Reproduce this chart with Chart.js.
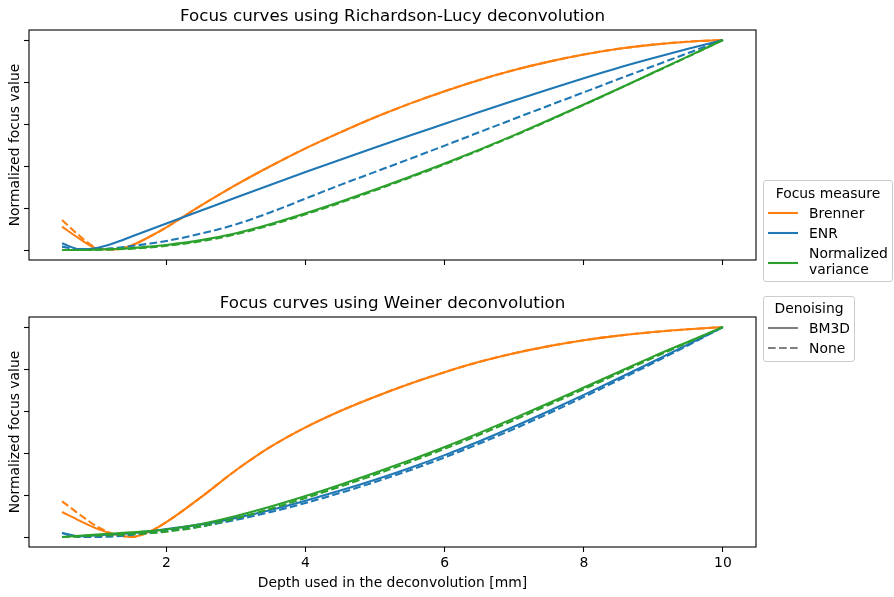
<!DOCTYPE html>
<html><head><meta charset="utf-8">
<script src="https://cdn.jsdelivr.net/npm/chart.js@4.4.1/dist/chart.umd.min.js"></script>
<style>
html,body{margin:0;padding:0;background:#fff;}
body{width:894px;height:597px;position:relative;overflow:hidden;font-family:"DejaVu Sans",sans-serif;}
canvas{position:absolute;left:0;}
#c1{top:0;}
#c2{top:290px;}
.legend{position:absolute;border:1px solid #cccccc;border-radius:3px;background:rgba(255,255,255,0.8);box-sizing:border-box;}
.lt{position:absolute;font-size:13.9px;line-height:16px;white-space:nowrap;color:#000;}
.legend svg{position:absolute;}
</style>
</head><body>
<canvas id="c1" width="894" height="290"></canvas>
<canvas id="c2" width="894" height="307"></canvas>
<div class="legend" id="leg1" style="left:763px;top:180px;width:130px;height:102px;"></div>
<div class="legend" id="leg2" style="left:763px;top:296px;width:92px;height:66px;"></div>
<script>
// ---- data ----
const depth = [0.5,0.75,1.0,1.25,1.5,1.75,2.0,2.5,3.0,3.5,4.0,4.5,5.0,5.5,6.0,6.5,7.0,7.5,8.0,8.5,9.0,9.5,10.0];
const xTicks = [2,4,6,8,10];
const yTicks = [0,0.2,0.4,0.6,0.8,1.0];
const measures = ['Brenner','ENR','Normalized\nvariance'];
const denoising = ['BM3D','None'];

// Richardson-Lucy deconvolution
const rlBrennerBM3D = [0.111,0.054,0.008,0.002,0.022,0.062,0.108,0.212,0.310,0.400,0.484,0.560,0.632,0.697,0.756,0.810,0.857,0.897,0.931,0.958,0.978,0.992,1.0];
const rlBrennerNone = [0.143,0.068,0.010,0.002,0.022,0.062,0.108,0.212,0.310,0.400,0.484,0.560,0.632,0.697,0.756,0.810,0.857,0.897,0.931,0.958,0.978,0.992,1.0];
const rlEnrBM3D     = [0.032,0.004,0.010,0.033,0.064,0.095,0.126,0.188,0.250,0.311,0.371,0.430,0.488,0.545,0.601,0.657,0.712,0.766,0.818,0.868,0.914,0.958,1.0];
const rlEnrNone     = [0.016,0.003,0.003,0.009,0.019,0.030,0.043,0.078,0.122,0.180,0.245,0.310,0.372,0.434,0.497,0.561,0.625,0.688,0.751,0.814,0.876,0.938,1.0];
const rlNvBM3D      = [0.0,0.0,0.002,0.005,0.009,0.016,0.024,0.047,0.080,0.124,0.175,0.230,0.288,0.349,0.412,0.478,0.547,0.619,0.693,0.768,0.845,0.922,1.0];
const rlNvNone      = [0.0,0.0,0.001,0.003,0.006,0.012,0.020,0.042,0.075,0.119,0.170,0.225,0.284,0.345,0.408,0.475,0.544,0.617,0.691,0.767,0.844,0.921,1.0];

// Weiner deconvolution
const wBrennerBM3D = [0.119,0.078,0.040,0.013,0.0,0.024,0.071,0.190,0.318,0.430,0.522,0.600,0.668,0.730,0.785,0.834,0.875,0.909,0.937,0.959,0.976,0.989,1.0];
const wBrennerNone = [0.170,0.108,0.050,0.013,0.0,0.024,0.071,0.190,0.318,0.430,0.522,0.600,0.668,0.730,0.785,0.834,0.875,0.909,0.937,0.959,0.976,0.989,1.0];
const wEnrBM3D     = [0.019,0.004,0.008,0.013,0.018,0.026,0.038,0.060,0.091,0.129,0.173,0.221,0.273,0.329,0.390,0.456,0.526,0.600,0.677,0.756,0.836,0.917,1.0];
const wEnrNone     = [0.019,0.0,0.0,0.003,0.010,0.020,0.030,0.051,0.082,0.119,0.162,0.210,0.262,0.318,0.379,0.445,0.515,0.589,0.667,0.747,0.829,0.913,1.0];
const wNvBM3D      = [0.0,0.006,0.012,0.017,0.022,0.028,0.036,0.062,0.100,0.145,0.195,0.249,0.306,0.366,0.429,0.496,0.566,0.638,0.712,0.786,0.860,0.930,1.0];
const wNvNone      = [0.0,0.003,0.006,0.009,0.013,0.018,0.025,0.050,0.088,0.135,0.186,0.240,0.297,0.357,0.420,0.487,0.557,0.630,0.704,0.779,0.854,0.927,1.0];

const colors = {Brenner:'#ff7f0e', ENR:'#1f77b4', NV:'#2ca02c'};
const DASH = [7.7,3.3];
const LW = 2.08;
const FONT = 'DejaVu Sans';

Chart.defaults.font.family = FONT;
Chart.defaults.color = '#000';

function ds(vals, color, dashed){
  return {
    data: depth.map((x,i)=>({x:x, y:vals[i]})),
    borderColor: color, backgroundColor: color,
    borderWidth: LW, borderDash: dashed ? DASH : [],
    pointRadius: 0, pointHoverRadius: 0, fill: false,
    cubicInterpolationMode: 'monotone', borderCapStyle: 'butt'
  };
}

const framePlugin = {
  id: 'frame',
  afterDatasetsDraw(chart){
    const {ctx, chartArea:a} = chart;
    ctx.save();
    ctx.strokeStyle = '#000';
    ctx.lineWidth = 1.1;
    ctx.strokeRect(a.left, a.top, a.right - a.left, a.bottom - a.top);
    ctx.restore();
  }
};

function makeChart(id, titleText, sets, showX, titlePad, xAxisH){
  return new Chart(document.getElementById(id), {
    type: 'line',
    data: { datasets: sets },
    plugins: [framePlugin],
    options: {
      responsive: false, animation: false, devicePixelRatio: 1,
      layout: { padding: {left:0, right:138, top:0, bottom:0}, autoPadding: false },
      plugins: {
        legend: { display: false },
        tooltip: { enabled: false },
        title: {
          display: true, text: titleText, color: '#000', fullSize: false,
          font: { family: FONT, size: 16.7, weight: 'normal', lineHeight: '20px' },
          padding: titlePad
        }
      },
      scales: {
        x: {
          type: 'linear', min: 0.025, max: 10.475,
          afterBuildTicks: s => { s.ticks = xTicks.map(v => ({value: v})); },
          afterFit: s => { s.height = xAxisH; },
          ticks: { display: showX, color: '#000', font: {family: FONT, size: 13.9}, padding: 3, maxRotation: 0, autoSkip: false },
          grid: { drawOnChartArea: false, drawTicks: true, tickLength: 5, tickColor: '#000', tickWidth: 1.1 },
          border: { display: false },
          title: { display: showX, text: 'Depth used in the deconvolution [mm]', color: '#000',
                   font: {family: FONT, size: 13.9}, padding: {top: 0, bottom: 5.7} }
        },
        y: {
          type: 'linear', min: -10/210, max: 1 + 10/210,
          afterBuildTicks: s => { s.ticks = yTicks.map(v => ({value: v})); },
          afterFit: s => { s.width = 29; },
          ticks: { display: false },
          grid: { drawOnChartArea: false, drawTicks: true, tickLength: 5, tickColor: '#000', tickWidth: 1.1 },
          border: { display: false },
          title: { display: true, text: 'Normalized focus value', color: '#000',
                   font: {family: FONT, size: 13.9}, padding: {top: 6.7, bottom: 0} }
        }
      }
    }
  });
}

makeChart('c1', 'Focus curves using Richardson-Lucy deconvolution', [
  ds(rlNvBM3D, colors.NV, false),
  ds(rlNvNone, colors.NV, true),
  ds(rlEnrBM3D, colors.ENR, false),
  ds(rlEnrNone, colors.ENR, true),
  ds(rlBrennerBM3D, colors.Brenner, false),
  ds(rlBrennerNone, colors.Brenner, true)
], false, {top: 7, bottom: 3}, 30);

makeChart('c2', 'Focus curves using Weiner deconvolution', [
  ds(wNvBM3D, colors.NV, false),
  ds(wNvNone, colors.NV, true),
  ds(wEnrBM3D, colors.ENR, false),
  ds(wEnrNone, colors.ENR, true),
  ds(wBrennerBM3D, colors.Brenner, false),
  ds(wBrennerNone, colors.Brenner, true)
], true, {top: 4, bottom: 3}, 50);

// ---- legends (HTML text) ----
function lineSvg(left, cy, color, dashed){
  return '<svg width="30" height="6" style="left:'+left+'px;top:'+(cy-3)+'px">' +
    '<line x1="0" y1="3" x2="30" y2="3" stroke="'+color+'" stroke-width="'+LW+'"' +
    (dashed ? ' stroke-dasharray="'+DASH.join(' ')+'"' : '') + '/></svg>';
}
function textDiv(left, cy, txt, center){
  return '<div class="lt" style="top:'+(cy-8)+'px;'+(center ? 'left:0;width:100%;text-align:center;' : 'left:'+left+'px;')+'">'+txt+'</div>';
}
let h1 = textDiv(0, 11.7, 'Focus measure', true);
const mColors = [colors.Brenner, colors.ENR, colors.NV];
const mY = [32.3, 52.3, 72.3];
measures.forEach((m, i) => {
  const lines = m.split('\n');
  const lineY = lines.length > 1 ? mY[i] + 10 : mY[i];
  h1 += lineSvg(4.3, lineY, mColors[i], false);
  lines.forEach((t, j) => { h1 += textDiv(45, mY[i] + j*16, t, false); });
});
document.getElementById('leg1').innerHTML = h1;

let h2 = textDiv(0, 10.7, 'Denoising', true);
denoising.forEach((d, i) => {
  const cy = 31.3 + i*20;
  h2 += lineSvg(4.3, cy, '#808080', i === 1);
  h2 += textDiv(45, cy, d, false);
});
document.getElementById('leg2').innerHTML = h2;
</script>
</body></html>
